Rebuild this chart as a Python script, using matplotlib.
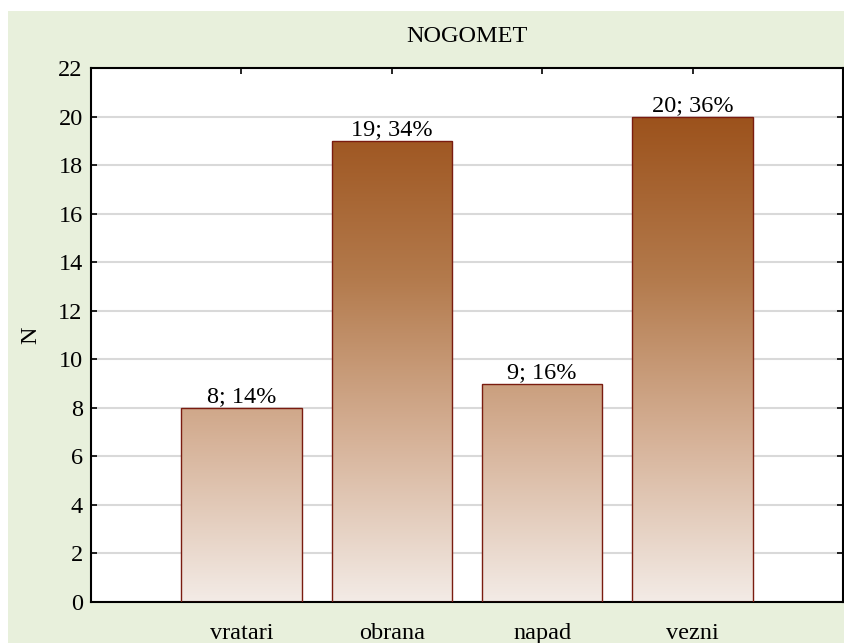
import matplotlib
matplotlib.use("Agg")
import matplotlib.pyplot as plt
import numpy as np
from matplotlib.colors import LinearSegmentedColormap
from matplotlib.patches import Rectangle, Rectangle as R

categories = ["vratari", "obrana", "napad", "vezni"]
counts = [8, 19, 9, 20]
percents = [14, 34, 16, 36]
yticks = list(range(0, 23, 2))

plt.rcParams['font.family'] = ['Liberation Serif', 'DejaVu Serif']
FS = 17.5

fig = plt.figure(figsize=(8.45, 6.43), dpi=100)
fig.patch.set_facecolor('white')
# green panel
fig.patches.append(R((8/845, 0), 1 - 8/845, 1 - 11/643, transform=fig.transFigure,
                     facecolor='#e8f0dc', edgecolor='none', zorder=-10))

ax = fig.add_axes([91/845, 1 - 602/643, (843 - 91)/845, (602 - 68)/643])
ax.set_facecolor('white')

cmap = LinearSegmentedColormap.from_list('brown', ['#f3ebe6', '#d6b298', '#b37a4c', '#9c521c'])
x = np.arange(1, len(categories) + 1)
width = 0.8
grad = np.linspace(0, 1, 256).reshape(-1, 1)
for xi, c, p in zip(x, counts, percents):
    rect = Rectangle((xi - width / 2, 0), width, c, facecolor='none',
                     edgecolor='#7a1c10', linewidth=1.0, zorder=3)
    ax.add_patch(rect)
    im = ax.imshow(grad, cmap=cmap, origin='lower', aspect='auto',
                   extent=(xi - width / 2, xi + width / 2, 0, 20), zorder=2,
                   interpolation='bilinear')
    im.set_clip_path(rect)
    ax.text(xi, c + 0.02, f"{c}; {p}%", ha='center', va='bottom', fontsize=FS, zorder=4)

ax.set_xlim(0, 5)
ax.set_ylim(0, 22)
ax.set_xticks(x)
ax.set_xticklabels(categories, fontsize=FS)
ax.set_yticks(yticks)
ax.set_yticklabels([str(t) for t in yticks], fontsize=FS)
ax.tick_params(direction='in', length=4, width=1.2, top=True, right=True, pad=6)
ax.tick_params(axis='x', pad=15)
ax.yaxis.grid(True, color='#d9d9d9', linewidth=1.5, zorder=0)
ax.set_axisbelow(True)
for s in ax.spines.values():
    s.set_linewidth(1.5)
ax.set_ylabel("N", fontsize=FS, labelpad=12)
ax.set_title("NOGOMET", fontsize=FS, pad=19)

fig.savefig("out.png", dpi=100)
